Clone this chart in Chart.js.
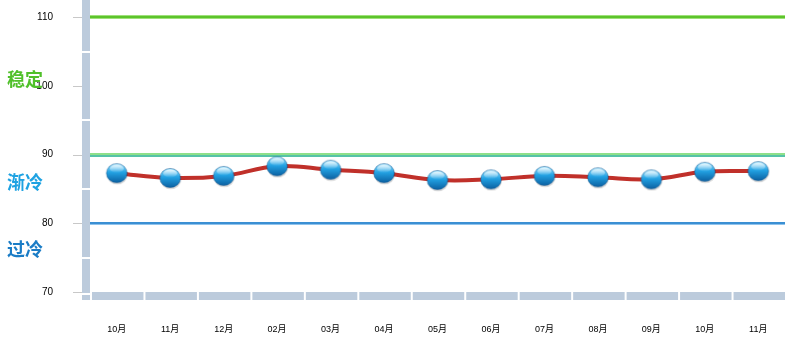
<!DOCTYPE html>
<html>
<head>
<meta charset="utf-8">
<script src="https://cdn.jsdelivr.net/npm/chart.js@4.4.0/dist/chart.umd.min.js"></script>
<style>
html,body{margin:0;padding:0;background:#fff;}
</style>
</head>
<body>
<canvas id="mycanvas" width="802" height="340"></canvas>
<script>
var months = ['10月','11月','12月','02月','03月','04月','05月','06月','07月','08月','09月','10月','11月'];
var values = [87.3, 86.6, 86.9, 88.3, 87.8, 87.3, 86.3, 86.4, 86.9, 86.7, 86.4, 87.5, 87.6];
var yMin = 70, yMax = 112.5;
var levels = [110, 90, 80];
var zoneNames = ['稳定', '渐冷', '过冷'];
var zoneValues = [101, 86, 76.3];

function makeBall() {
	var c = document.createElement('canvas');
	c.width = 24; c.height = 24;
	var g = c.getContext('2d');
	g.fillStyle = 'rgba(0,0,0,0.15)';
	g.beginPath(); g.ellipse(12.5, 13.5, 10.5, 9.8, 0, 0, Math.PI * 2); g.fill();
	var grd = g.createLinearGradient(0, 2, 0, 22);
	grd.addColorStop(0, '#a6e6ff');
	grd.addColorStop(0.45, '#23a3e4');
	grd.addColorStop(1, '#0a5d9e');
	g.fillStyle = grd;
	g.beginPath(); g.ellipse(12, 12, 10.3, 9.6, 0, 0, Math.PI * 2); g.fill();
	g.strokeStyle = 'rgba(10,80,140,0.6)';
	g.lineWidth = 0.8; g.stroke();
	var hl = g.createLinearGradient(0, 3, 0, 11);
	hl.addColorStop(0, 'rgba(255,255,255,0.85)');
	hl.addColorStop(1, 'rgba(255,255,255,0.05)');
	g.fillStyle = hl;
	g.beginPath(); g.ellipse(12, 7.5, 7, 4, 0, 0, Math.PI * 2); g.fill();
	return c;
}

var decor = {
	id: 'decor',
	beforeDatasetsDraw: function(chart) {
		var ctx = chart.ctx, a = chart.chartArea;
		var ys = chart.scales.y;
		ctx.save();
		// y band
		ctx.fillStyle = '#bccbdc';
		ctx.fillRect(a.left - 8, 0, 8, a.bottom + 8);
		ctx.fillStyle = '#ffffff';
		[75, 85, 95, 105].forEach(function(v){
			ctx.fillRect(a.left - 8, Math.round(ys.getPixelForValue(v)) - 1, 8, 2);
		});
		ctx.fillRect(a.left - 8, a.bottom + 1, 8, 2);
		// x band
		var step = (a.right - a.left) / months.length;
		ctx.fillStyle = '#bccbdc';
		for (var i = 0; i < months.length; i++) {
			var x0 = a.left + i * step + 2;
			ctx.fillRect(x0, a.bottom, step - 2, 8);
		}
		// tick marks
		ctx.strokeStyle = '#c8c8c8';
		ctx.lineWidth = 1;
		for (var v = 70; v <= 110; v += 10) {
			var py = Math.round(ys.getPixelForValue(v)) + 0.5;
			ctx.beginPath(); ctx.moveTo(a.left - 17, py); ctx.lineTo(a.left - 8, py); ctx.stroke();
		}
		// level lines
		var y110 = Math.round(ys.getPixelForValue(levels[0]));
		ctx.fillStyle = '#9fe07a'; ctx.fillRect(a.left, y110 - 2, a.right - a.left, 4);
		ctx.fillStyle = '#5cc42c'; ctx.fillRect(a.left, y110 - 1, a.right - a.left, 2);
		var y90 = Math.round(ys.getPixelForValue(levels[1]));
		ctx.fillStyle = '#8ee08a'; ctx.fillRect(a.left, y90 - 2, a.right - a.left, 2);
		ctx.fillStyle = '#56c3a8'; ctx.fillRect(a.left, y90, a.right - a.left, 2);
		var y80 = Math.round(ys.getPixelForValue(levels[2]));
		ctx.fillStyle = '#8fc3ec'; ctx.fillRect(a.left, y80 - 1, a.right - a.left, 3);
		ctx.fillStyle = '#3a8fd3'; ctx.fillRect(a.left, y80 - 1, a.right - a.left, 2);
		// zone labels
		var colors = ['#50c02a', '#1ea2e2', '#1a7cc6'];
		ctx.font = 'bold 18px "Noto Sans CJK SC"';
		ctx.textBaseline = 'middle';
		ctx.textAlign = 'left';
		zoneNames.forEach(function(n, k){
			ctx.fillStyle = colors[k];
			ctx.fillText(n, 7, ys.getPixelForValue(zoneValues[k]));
		});
		ctx.restore();
	}
};

var ctx = document.getElementById('mycanvas');
var lineGraph = new Chart(ctx, {
	type: 'line',
	data: {
		labels: months,
		datasets: [{
			data: values,
			borderColor: '#c0302a',
			borderWidth: 4,
			tension: 0.4,
			pointStyle: makeBall(),
			pointRadius: 11,
			clip: false
		}]
	},
	options: {
		responsive: false,
		animation: false,
		devicePixelRatio: 1,
		layout: { autoPadding: false, padding: { left: 0, right: 17, top: 0, bottom: 0 } },
		plugins: { legend: { display: false }, tooltip: { enabled: false } },
		scales: {
			x: {
				offset: true,
				grid: { display: false },
				border: { display: false },
				ticks: { color: '#000', padding: 24, font: { size: 9, family: 'Liberation Sans, Noto Sans CJK SC' }, maxRotation: 0, autoSkip: false },
				afterFit: function(s) { s.height = 48; s.paddingLeft = 0; s.paddingRight = 0; }
			},
			y: {
				min: yMin,
				max: yMax,
				grid: { display: false },
				border: { display: false },
				ticks: { stepSize: 10, includeBounds: false, color: '#000', padding: 29, font: { size: 10, family: 'Liberation Sans' } },
				afterFit: function(s) { s.width = 90; s.paddingTop = 0; s.paddingBottom = 0; }
			}
		}
	},
	plugins: [decor]
});
</script>
</body>
</html>
